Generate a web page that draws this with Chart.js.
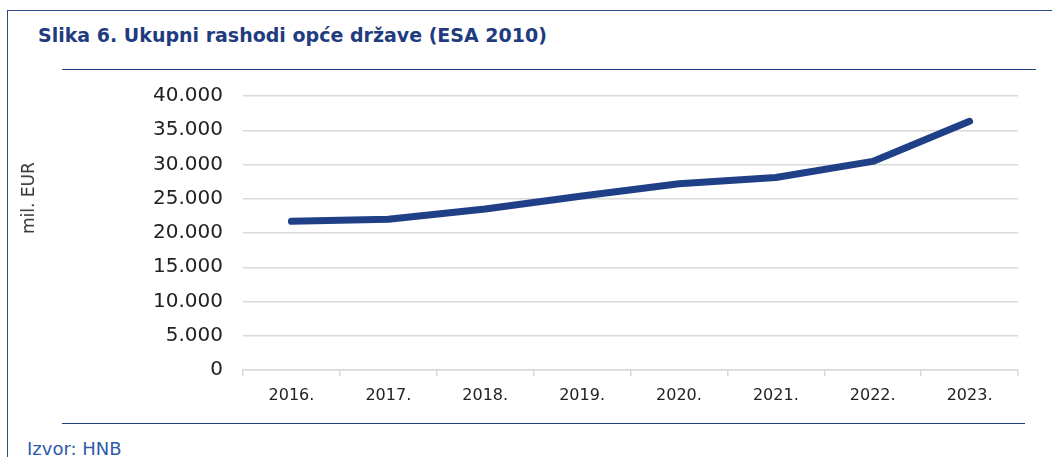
<!DOCTYPE html>
<html>
<head>
<meta charset="utf-8">
<script src="https://cdn.jsdelivr.net/npm/chart.js@4"></script>
<style>
  html, body { margin: 0; padding: 0; background: #fff; }
  body { width: 1052px; height: 457px; position: relative; overflow: hidden; font-family: 'DejaVu Sans', sans-serif; }
  .frame-top { position: absolute; left: 7px; top: 10px; width: 1045px; height: 0; border-top: 1.5px solid #2c4a8a; }
  .frame-left { position: absolute; left: 7px; top: 10px; width: 0; height: 447px; border-left: 1.5px solid #2c4a8a; }
  .title { position: absolute; left: 38px; top: 24px; font-weight: bold; font-size: 19px; color: #1f3c80; white-space: nowrap; }
  .rule-top { position: absolute; left: 62px; top: 69px; width: 974px; border-top: 1.5px solid #1f3c80; }
  .rule-bottom { position: absolute; left: 62px; top: 423px; width: 963px; border-top: 1.5px solid #1f3c80; }
  .source { position: absolute; left: 27px; top: 438px; font-size: 18px; color: #2f5aa8; white-space: nowrap; }
  .ylabel { position: absolute; left: 28px; top: 198px; font-size: 17px; color: #333; white-space: nowrap;
            transform: translate(-50%, -50%) rotate(-90deg); }
  .wrap { position: absolute; left: 0; top: 64px; width: 1052px; height: 351px; }
</style>
</head>
<body>
<div class="frame-top"></div>
<div class="frame-left"></div>
<div class="title">Slika 6. Ukupni rashodi opće države (ESA 2010)</div>
<div class="rule-top"></div>
<div class="wrap"><canvas id="c"></canvas></div>
<div class="ylabel">mil. EUR</div>
<div class="rule-bottom"></div>
<div class="source">Izvor: HNB</div>
<script>
// mil. EUR
const years = ['2016.', '2017.', '2018.', '2019.', '2020.', '2021.', '2022.', '2023.'];
const expenditure = [21700, 22000, 23500, 25400, 27200, 28100, 30450, 36300];
const yTicks = [0, 5000, 10000, 15000, 20000, 25000, 30000, 35000, 40000];

const fmt = (v) => String(v).replace(/\B(?=(\d{3})+(?!\d))/g, '.');

new Chart(document.getElementById('c'), {
  type: 'line',
  data: {
    labels: years,
    datasets: [{
      data: expenditure,
      borderColor: '#1f3f87',
      borderWidth: 7,
      borderCapStyle: 'round',
      borderJoinStyle: 'round',
      pointRadius: 0,
      tension: 0,
      fill: false,
    }],
  },
  options: {
    responsive: true,
    maintainAspectRatio: false,
    animation: false,
    layout: { padding: { left: 22, right: 34, top: 19, bottom: 0 } },
    plugins: { legend: { display: false }, tooltip: { enabled: false } },
    scales: {
      x: {
        offset: true,
        grid: { offset: true, drawOnChartArea: false, drawTicks: true, tickLength: 6, color: '#d9d9d9', lineWidth: 1.5 },
        border: { color: '#d9d9d9', width: 1.5 },
        ticks: { color: '#222', font: { family: 'DejaVu Sans', size: 16 }, padding: 10, maxRotation: 0 },
        afterFit: (s) => { s.height = 45; },
      },
      y: {
        min: 0,
        max: 40000,
        afterBuildTicks: (s) => { s.ticks = yTicks.map((v) => ({ value: v })); },
        grid: { color: '#d9d9d9', lineWidth: 1.5, drawTicks: false },
        border: { display: false },
        ticks: { color: '#222', font: { family: 'DejaVu Sans', size: 20 }, padding: 20, callback: (v) => fmt(v) },
        afterFit: (s) => { s.width = 221; },
      },
    },
  },
});
</script>
</body>
</html>
